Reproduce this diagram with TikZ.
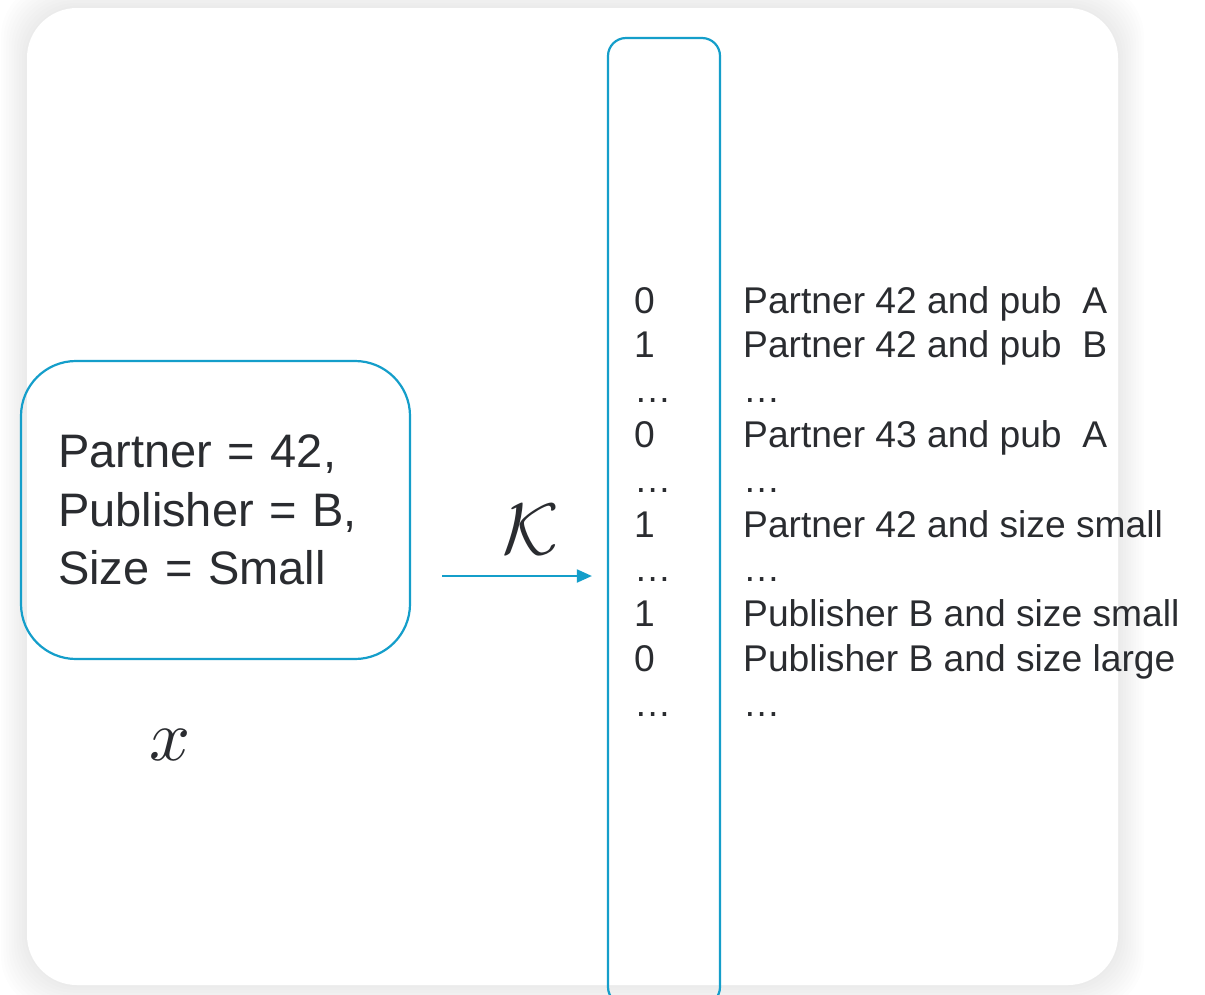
\documentclass[tikz,border=0pt]{standalone}
\usepackage{fontspec}
\setmainfont{Liberation Sans}
\usepackage{amsmath}
\usetikzlibrary{positioning,arrows.meta}
\definecolor{kblue}{RGB}{20,158,202}
\definecolor{ink}{RGB}{42,44,48}

\begin{document}
\begin{tikzpicture}[x=1pt, y=-1pt,
  panel/.style={rectangle, fill=white, rounded corners=50pt,
                minimum width=1091pt, minimum height=977pt, inner sep=0pt},
  inputbox/.style={rectangle, draw=kblue, line width=2.2pt, rounded corners=55pt,
                minimum width=389pt, minimum height=298pt, text width=315pt,
                inner xsep=37pt, inner ysep=0pt, align=left, text=ink,
                font=\fontsize{47}{58.5}\selectfont},
  vecbox/.style={rectangle, draw=kblue, line width=2.2pt, rounded corners=18pt,
                minimum width=112pt, minimum height=967pt, inner sep=0pt},
  cell/.style={anchor=base west, inner sep=0pt, text=ink,
               font=\fontsize{37.2}{43}\selectfont},
  flow/.style={draw=kblue, line width=2pt, -{Triangle[length=15pt, width=13pt]}},
  mathlab/.style={inner sep=0pt, text=ink}
]
  \useasboundingbox (0,0) rectangle (1205,994);
  \clip (0,0) rectangle (1205,994);

  % soft shadow round the panel
  \foreach \s in {1,...,10}
    \fill[black, opacity=0.007, rounded corners=55pt]
      ({27-2.6*\s},{8-2.6*\s}) rectangle ({1118+2.6*\s},{985+2.6*\s});
  \node[panel] (panel) at (572.5,496.5) {};

  \node[inputbox] (input) at (215.5,510)
    {Partner = 42,\\Publisher = B,\\Size = Small};
  \node[mathlab, scale=7.2] (xlab) at (170,745) {$x$};

  \node[vecbox] (vec) at (664,521.5) {};

  % one-hot rows
  \foreach \v/\t [count=\i from 0] in {0/Partner 42 and pub\ \ A,
      1/Partner 42 and pub\ \ B, …/…, 0/Partner 43 and pub\ \ A, …/…,
      1/Partner 42 and size small, …/…, 1/Publisher B and size small,
      0/Publisher B and size large, …/…} {
    \node[cell] (bit\i) at (634,{313+44.8*\i}) {\v};
    \node[cell] (desc\i) at (743,{313+44.8*\i}) {\t};
  }

  \coordinate (kstart) at (442,576);
  \draw[flow, shorten >=15pt] (kstart) -- (kstart -| vec.west);
  \node[mathlab, scale=7.3] (kmap) at (531,530) {$\mathcal{K}$};
\end{tikzpicture}
\end{document}
